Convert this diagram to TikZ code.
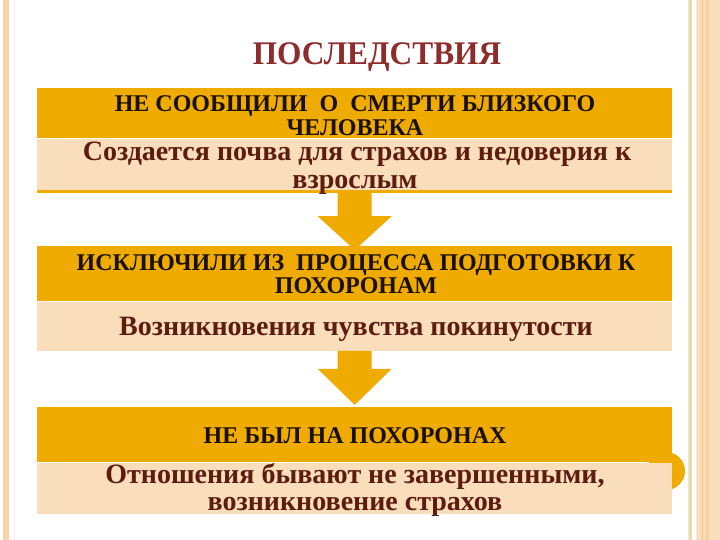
\documentclass[tikz,border=0pt]{standalone}
\usepackage{fontspec}
\setmainfont{Liberation Serif}
\newfontfamily\titlefont[FakeStretch=0.95]{Liberation Serif}
\usetikzlibrary{calc}
\definecolor{orn}{RGB}{240,171,0}
\definecolor{pch}{RGB}{250,221,186}
\definecolor{ttl}{RGB}{142,44,44}
\definecolor{hdrc}{RGB}{26,16,0}
\definecolor{bodc}{RGB}{92,28,14}
\definecolor{lstripe}{RGB}{250,210,170}
\definecolor{pinkl}{RGB}{250,225,235}
\definecolor{khaki}{RGB}{232,222,165}
\definecolor{ylw}{RGB}{250,200,100}
\definecolor{pchd}{RGB}{245,208,168}
\tikzset{
  band/.style={fill=orn, draw=none, inner sep=0pt, minimum width=635pt, anchor=north west},
  bodyband/.style={fill=pch, draw=none, inner sep=0pt, minimum width=635pt, anchor=north west},
  hdr/.style={font=\bfseries\fontsize{24}{25}\selectfont, text=hdrc, anchor=base, inner sep=0pt},
  bod/.style={font=\bfseries\fontsize{28}{29}\selectfont, text=bodc, anchor=base, inner sep=0pt},
  flowarrow/.style={fill=orn, draw=none}
}
\begin{document}
\begin{tikzpicture}[x=1pt,y=-1pt]
\useasboundingbox (0,0) rectangle (720,540);
\fill[white] (0,0) rectangle (720,540);
% left border
\fill[lstripe] (3,0) rectangle (9,540);
\draw[pinkl, line width=0.8pt] (14,0) -- (14,540);
% right border
\draw[pinkl, line width=0.8pt] (688,0) -- (688,540);
\fill[khaki] (689,0) rectangle (692,540);
\draw[pinkl, line width=0.8pt] (696,0) -- (696,540);
\fill[pch] (697,0) rectangle (702,540);
\fill[ylw] (702,0) rectangle (703,540);
\fill[pch] (703,0) rectangle (720,540);
\fill[pchd] (706,0) rectangle (709,540);
% title
\node[font=\titlefont\bfseries\fontsize{33}{34}\selectfont, text=ttl, anchor=base, inner sep=0pt] (title) at (377,65) {ПОСЛЕДСТВИЯ};
% decorative half circle
\fill[orn] (666,471) circle (19pt);
% box 1
\node[band, minimum height=50pt] (h1) at (37,88) {};
\node[bodyband, minimum height=51pt] (b1) at (h1.south west) {};
\node[fill=orn, inner sep=0pt, minimum width=635pt, minimum height=3pt, anchor=north west] (l1) at (b1.south west) {};
% box 2
\node[band, minimum height=55pt] (h2) at (37,246) {};
\node[bodyband, minimum height=49pt] (b2) at (h2.south west) {};
% box 3
\node[band, minimum height=55pt] (h3) at (37,407) {};
\node[bodyband, minimum height=51pt] (b3) at (h3.south west) {};
% arrows
\fill[flowarrow] ($(l1.south)+(-17,0)$) -- ($(l1.south)+(17,0)$) -- ($(l1.south)+(17,23)$) -- ($(l1.south)+(37,23)$)
  -- ($(h2.north)+(0,4)$) -- ($(l1.south)+(-37,23)$) -- ($(l1.south)+(-17,23)$) -- cycle;
\fill[flowarrow] ($(b2.south)+(-17,0)$) -- ($(b2.south)+(17,0)$) -- ($(b2.south)+(17,18)$) -- ($(b2.south)+(37,18)$)
  -- ($(h3.north)+(0,-2)$) -- ($(b2.south)+(-37,18)$) -- ($(b2.south)+(-17,18)$) -- cycle;
% texts box 1
\node[hdr] (t1a) at (355,112) {НЕ СООБЩИЛИ\ \ О\ \ СМЕРТИ БЛИЗКОГО};
\node[hdr] (t1b) at (355,136) {ЧЕЛОВЕКА};
\node[bod] (s1a) at (357,161) {Создается почва для страхов и недоверия к};
\node[bod] (s1b) at (355,188.5) {взрослым};
% texts box 2
\node[hdr] (t2a) at (356,270) {ИСКЛЮЧИЛИ ИЗ\ \ ПРОЦЕССА ПОДГОТОВКИ К};
\node[hdr] (t2b) at (356,293) {ПОХОРОНАМ};
\node[bod] (s2a) at (356,335) {Возникновения чувства покинутости};
% texts box 3
\node[hdr] (t3a) at (355,443) {НЕ БЫЛ НА ПОХОРОНАХ};
\node[bod] (s3a) at (355,483) {Отношения бывают не завершенными,};
\node[bod] (s3b) at (355,510) {возникновение страхов};
\end{tikzpicture}
\end{document}
